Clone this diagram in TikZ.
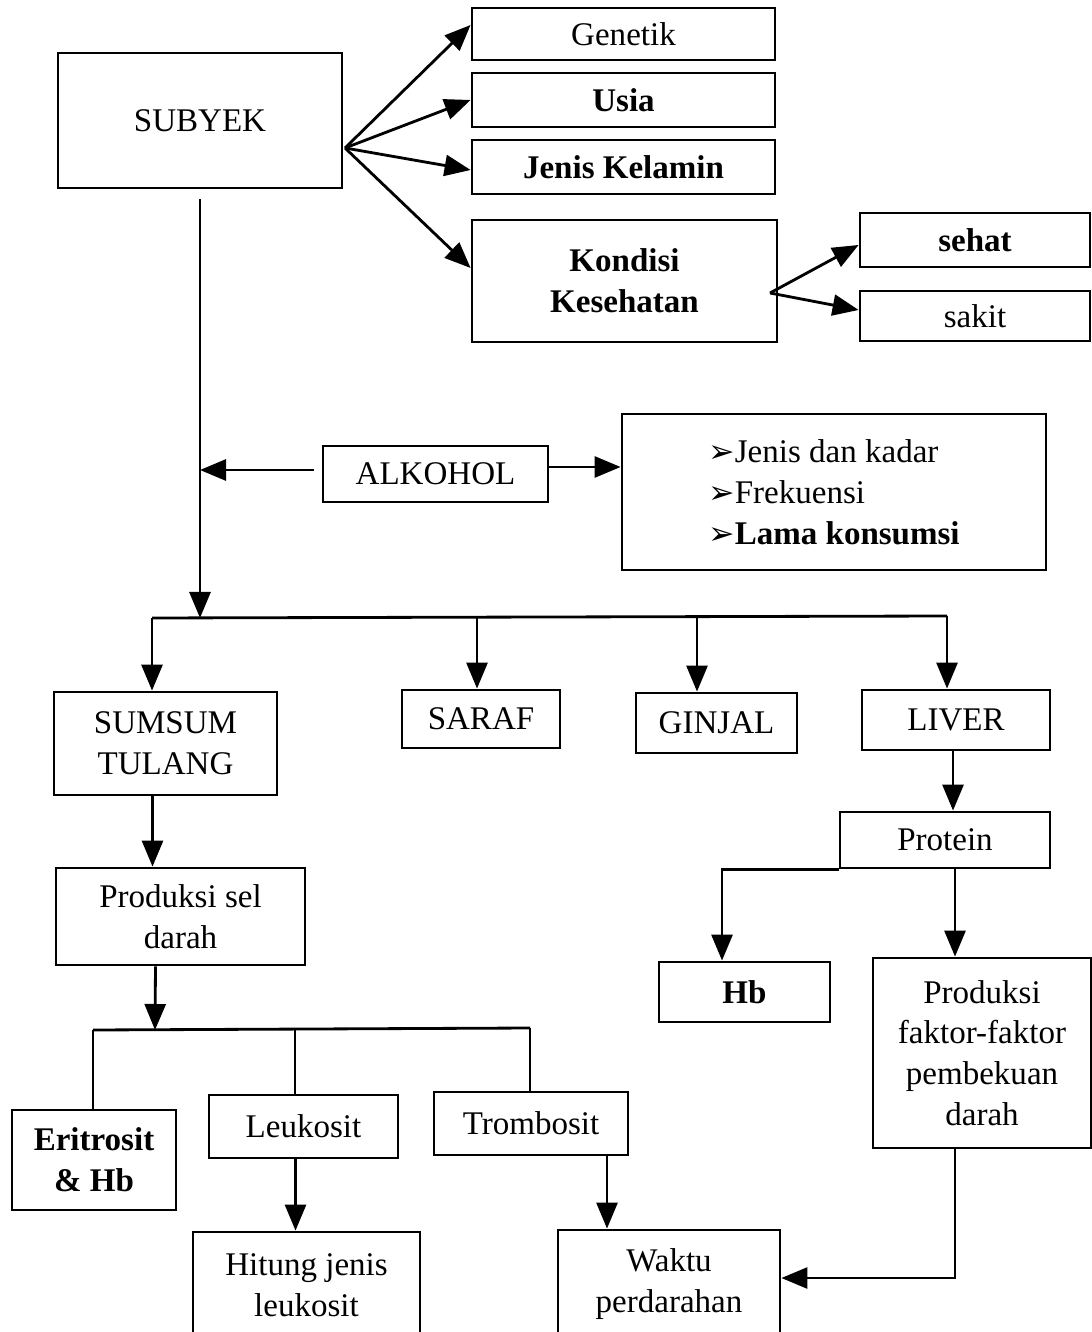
\documentclass[tikz,border=0pt]{standalone}
\usepackage{fontspec}
\setmainfont{Liberation Serif}
\newfontfamily\tipfont{DejaVu Sans}
\usetikzlibrary{arrows.meta,positioning}
\newcommand\itm[1]{{\tipfont\fontsize{9}{9}\selectfont ➢}#1}

\begin{document}
\begin{tikzpicture}[->,>={Triangle[length=2.6mm,width=2.1mm]}, thick,
	box/.style={draw, -, align=center, inner sep=2pt, font=\fontsize{9.4}{11.6}\selectfont},
	bold/.style={box, font=\fontsize{9.4}{11.6}\selectfont\bfseries}]
\useasboundingbox (0,0) rectangle (10.91,-13.32);

\node[box, minimum width=2.84cm, minimum height=1.35cm] (subyek) at (2.00,-1.205) {SUBYEK};
\node[box, minimum width=3.03cm, minimum height=0.52cm] (gen) at (6.235,-0.34) {Genetik};
\node[bold, minimum width=3.03cm, minimum height=0.54cm] (usia) at (6.235,-1.00) {Usia};
\node[bold, minimum width=3.03cm, minimum height=0.54cm] (jk) at (6.235,-1.67) {Jenis Kelamin};
\node[bold, minimum width=3.05cm, minimum height=1.22cm] (kond) at (6.245,-2.81) {Kondisi\\Kesehatan};
\node[bold, minimum width=2.30cm, minimum height=0.54cm] (sehat) at (9.75,-2.40) {sehat};
\node[box, minimum width=2.30cm, minimum height=0.50cm] (sakit) at (9.75,-3.16) {sakit};

\coordinate (fan) at (3.45,-1.48);
\coordinate (fan2) at (7.70,-2.93);
\draw (fan) -- ([yshift=0.9mm]gen.west);
\draw (fan) -- (usia.west);
\draw (fan) -- ([yshift=-0.3mm]jk.west);
\draw (fan) -- ([yshift=1.3mm]kond.west);
\draw (fan2) -- ([yshift=-0.5mm]sehat.west);
\draw (fan2) -- ([yshift=0.6mm]sakit.west);

\node[box, minimum width=2.25cm, minimum height=0.56cm] (alk) at (4.355,-4.74) {ALKOHOL};
\node[box, align=left, minimum width=4.24cm, minimum height=1.56cm] (faktor1) at (8.34,-4.92)
	{\itm{Jenis dan kadar}\\ \itm{Frekuensi}\\ \itm{\textbf{Lama konsumsi}}};

\coordinate (bus1) at (2.00,-6.18);
\coordinate (busL) at (1.52,-6.18);
\coordinate (busR) at (9.47,-6.16);
\draw ([yshift=-1mm]subyek.south) -- (bus1);
\draw ([xshift=-0.8mm,yshift=0.4mm]alk.west) -- ([yshift=0.4mm]alk.west -| bus1);
\draw ([yshift=0.7mm]alk.east) -- ([yshift=0.7mm]alk.east -| faktor1.west);
\draw[-] (busL) -- (busR);

\node[box, minimum width=2.23cm, minimum height=1.03cm] (sumsum) at (1.655,-7.435) {SUMSUM\\TULANG};
\node[box, minimum width=1.58cm, minimum height=0.58cm] (saraf) at (4.81,-7.19) {SARAF};
\node[box, minimum width=1.61cm, minimum height=0.60cm] (ginjal) at (7.165,-7.23) {GINJAL};
\node[box, minimum width=1.88cm, minimum height=0.60cm] (liver) at (9.56,-7.20) {LIVER};

\draw (busL) -- (busL |- sumsum.north);
\draw (busL -| 4.77,0) -- (4.77,0 |- saraf.north);
\draw (busL -| 6.97,0) -- (6.97,0 |- ginjal.north);
\draw (busR) -- (busR |- liver.north);

\node[box, minimum width=2.10cm, minimum height=0.56cm] (prot) at (9.45,-8.40) {Protein};
\node[bold, minimum width=1.71cm, minimum height=0.60cm] (hb) at (7.445,-9.92) {Hb};
\node[box, minimum width=2.18cm, minimum height=1.90cm] (pemb) at (9.82,-10.53)
	{Produksi\\faktor-faktor\\pembekuan\\darah};

\draw ([xshift=-0.3mm]liver.south) -- ([xshift=-0.3mm]liver.south |- prot.north);
\draw (prot.south west) -| ([xshift=-2.25mm]hb.north);
\draw ([xshift=1mm]prot.south) -- ([xshift=1mm]prot.south |- pemb.north);

\node[box, minimum width=2.49cm, minimum height=0.97cm] (prod) at (1.805,-9.165) {Produksi sel\\darah};
\draw ([xshift=-1.3mm]sumsum.south) -- ([xshift=-1.3mm]sumsum.south |- prod.north);

\coordinate (bus2) at (1.55,-10.30);
\coordinate (bus2L) at (0.93,-10.30);
\coordinate (bus2R) at (5.30,-10.28);
\draw ([xshift=-2.5mm]prod.south) -- (bus2);
\draw[-] (bus2L) -- (bus2R);

\node[bold, minimum width=1.64cm, minimum height=1.00cm] (eri) at (0.94,-11.60) {Eritrosit\\\& Hb};
\node[box, minimum width=1.89cm, minimum height=0.63cm] (leu) at (3.035,-11.265) {Leukosit};
\node[box, minimum width=1.94cm, minimum height=0.63cm] (trom) at (5.31,-11.235) {Trombosit};

\draw[-] (bus2L) -- (bus2L |- eri.north);
\draw[-] (bus2L -| 2.95,0) -- (2.95,0 |- leu.north);
\draw[-] (bus2R) -- (bus2R |- trom.north);

\node[box, minimum width=2.27cm, minimum height=1.06cm] (hit) at (3.065,-12.85) {Hitung jenis\\leukosit};
\node[box, minimum width=2.22cm, minimum height=1.08cm] (waktu) at (6.69,-12.84) {Waktu\\perdarahan};

\draw ([xshift=-0.8mm]leu.south) -- ([xshift=-0.8mm]leu.south |- hit.north);
\draw (6.07,0 |- trom.south) -- (6.07,0 |- waktu.north);
\draw ([xshift=-2.7mm]pemb.south) |- ([yshift=0.6mm]waktu.east);
\end{tikzpicture}
\end{document}
